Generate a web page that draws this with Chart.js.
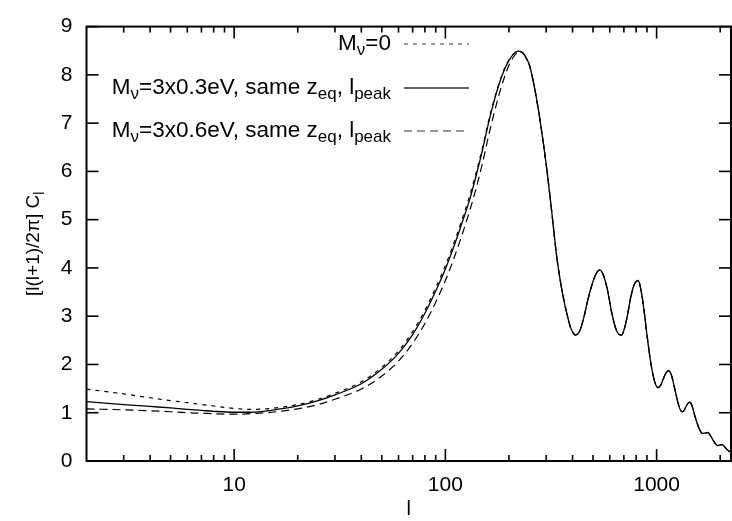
<!DOCTYPE html>
<html>
<head>
<meta charset="utf-8">
<script src="https://cdn.jsdelivr.net/npm/chart.js@4.4.1/dist/chart.umd.min.js"></script>
<style>
  html, body { margin: 0; padding: 0; background: #fff; }
  #wrap { width: 732px; height: 521px; }
</style>
</head>
<body>
<div id="wrap"><canvas id="clChart"></canvas></div>
<script>
// multipoles where the three models still differ
const lowEll = [2, 3, 4, 5, 6, 7, 8, 10, 12, 15, 20, 25, 30, 40, 50, 60, 70, 80, 90, 100,
  110, 120, 130, 140, 150, 160, 170, 180, 190, 200, 210, 220, 230];
const lowMassless = [1.49, 1.39, 1.31, 1.25, 1.21, 1.17, 1.14, 1.09, 1.07, 1.09, 1.17, 1.28, 1.40, 1.64, 1.94, 2.28, 2.68, 3.12, 3.59, 4.05,
  4.53, 5.01, 5.48, 5.98, 6.50, 7.04, 7.48, 7.84, 8.12, 8.31, 8.43, 8.49, 8.47];
const low03 = [1.23, 1.17, 1.13, 1.10, 1.07, 1.05, 1.03, 1.01, 1.01, 1.05, 1.14, 1.25, 1.37, 1.60, 1.90, 2.23, 2.62, 3.06, 3.52, 3.98,
  4.46, 4.94, 5.40, 5.92, 6.45, 7.00, 7.45, 7.82, 8.10, 8.30, 8.43, 8.49, 8.47];
const low06 = [1.08, 1.06, 1.04, 1.02, 1.00, 0.99, 0.98, 0.97, 0.98, 1.01, 1.08, 1.17, 1.28, 1.49, 1.76, 2.07, 2.44, 2.85, 3.29, 3.74,
  4.21, 4.69, 5.17, 5.66, 6.18, 6.73, 7.20, 7.61, 7.94, 8.20, 8.37, 8.46, 8.47];

// acoustic peaks: the three curves coincide here
const tailEll = [240, 250, 262, 280, 303, 320, 336, 351, 365, 377, 392, 413, 435, 455, 475, 500, 520, 538, 560, 585,
  610, 640, 665, 682, 705, 730, 755, 785, 818, 840, 870, 900, 930, 960, 990, 1014, 1045, 1080, 1110, 1141,
  1175, 1215, 1260, 1295, 1320, 1350, 1390, 1435, 1470, 1520, 1580, 1645, 1700, 1749, 1800, 1870, 1940, 1990, 2048, 2110,
  2180, 2250];
const tailCl = [8.37, 8.20, 7.82, 7.09, 6.00, 5.10, 4.26, 3.70, 3.30, 3.03, 2.76, 2.61, 2.72, 3.02, 3.38, 3.72, 3.90, 3.96, 3.85, 3.55,
  3.12, 2.75, 2.62, 2.61, 2.75, 3.05, 3.40, 3.66, 3.74, 3.58, 3.15, 2.62, 2.15, 1.80, 1.58, 1.52, 1.57, 1.72, 1.83, 1.87,
  1.78, 1.52, 1.22, 1.06, 1.02, 1.05, 1.16, 1.22, 1.15, 0.92, 0.70, 0.57, 0.58, 0.59, 0.52, 0.40, 0.32, 0.33, 0.34, 0.28,
  0.22, 0.18];

const yTicks = [0, 1, 2, 3, 4, 5, 6, 7, 8, 9];
const xLabels = [10, 100, 1000];

// rich text runs: [text, isSubscript]
const legendRows = [
  [["M", 0], ["ν", 1], ["=0", 0]],
  [["M", 0], ["ν", 1], ["=3x0.3eV, same z", 0], ["eq", 1], [", l", 0], ["peak", 1]],
  [["M", 0], ["ν", 1], ["=3x0.6eV, same z", 0], ["eq", 1], [", l", 0], ["peak", 1]],
];
const yTitle = [["[l(l+1)/2π] C", 0], ["l", 1]];

const FONT = '"Liberation Sans", Arial, sans-serif';
const styles = [
  { dash: [4, 5], width: 1.2 },
  { dash: [], width: 1.3 },
  { dash: [8, 5], width: 1.2 },
];

const toPoints = (low) =>
  lowEll.concat(tailEll).map((l, i) => ({ x: l, y: low.concat(tailCl)[i] }));

// draw text with subscripts
const drawRuns = (ctx, runs, x, y, size, align) => {
  const main = `${size}px ${FONT}`;
  const sub = `${Math.round(size * 0.75)}px ${FONT}`;
  let width = 0;
  runs.forEach(([t, s]) => {
    ctx.font = s ? sub : main;
    width += ctx.measureText(t).width;
  });
  let cx = align === "right" ? x - width : align === "center" ? x - width / 2 : x;
  runs.forEach(([t, s]) => {
    ctx.font = s ? sub : main;
    ctx.fillText(t, cx, s ? y + size * 0.3 : y);
    cx += ctx.measureText(t).width;
  });
};

const framePlugin = {
  id: "frame",
  afterDatasetsDraw(chart) {
    const { ctx, chartArea: a, scales: { x, y } } = chart;
    ctx.save();
    ctx.strokeStyle = "#000";
    ctx.lineWidth = 1.6;
    const seg = (x1, y1, x2, y2) => {
      ctx.beginPath();
      ctx.moveTo(x1, y1);
      ctx.lineTo(x2, y2);
      ctx.stroke();
    };
    yTicks.forEach((v) => {
      const py = y.getPixelForValue(v);
      seg(a.left, py, a.left + 12, py);
      seg(a.right, py, a.right - 12, py);
    });
    x.ticks.forEach((t) => {
      const v = t.value;
      const p = Math.pow(10, Math.floor(Math.log10(v) + 1e-9));
      const m = v / p;
      if (Math.abs(m - Math.round(m)) > 1e-6 || v <= x.min || v >= x.max) return;
      const len = Math.round(m) === 1 ? 12 : 6;
      const px = x.getPixelForValue(v);
      seg(px, a.bottom, px, a.bottom - len);
      seg(px, a.top, px, a.top + len);
    });
    ctx.lineWidth = 2;
    ctx.strokeRect(a.left, a.top, a.right - a.left, a.bottom - a.top);

    // legend
    ctx.fillStyle = "#000";
    ctx.textBaseline = "middle";
    const rowY = [44, 88, 131];
    legendRows.forEach((runs, i) => {
      drawRuns(ctx, runs, 391, rowY[i], 22.5, "right");
      const st = styles[i];
      ctx.setLineDash(st.dash);
      ctx.lineWidth = st.width;
      ctx.strokeStyle = "#333";
      seg(404, rowY[i], 469, rowY[i]);
    });
    ctx.setLineDash([]);

    // y axis title
    ctx.translate(34, (a.top + a.bottom) / 2);
    ctx.rotate(-Math.PI / 2);
    ctx.fillStyle = "#000";
    drawRuns(ctx, yTitle, 0, 0, 19, "center");
    ctx.restore();
  },
};

new Chart(document.getElementById("clChart"), {
  type: "line",
  data: {
    datasets: [lowMassless, low03, low06].map((low, i) => ({
      data: toPoints(low),
      borderColor: "#000",
      borderWidth: styles[i].width,
      borderDash: styles[i].dash,
      pointRadius: 0,
      fill: false,
      cubicInterpolationMode: "monotone",
    })),
  },
  options: {
    responsive: true,
    maintainAspectRatio: false,
    animation: false,
    layout: { padding: { left: 0, right: 1, top: 15.5, bottom: 0 } },
    plugins: { legend: { display: false }, tooltip: { enabled: false } },
    scales: {
      x: {
        type: "logarithmic",
        min: 2,
        max: 2250,
        grid: { display: false, drawTicks: false },
        border: { display: false },
        ticks: {
          autoSkip: false,
          maxRotation: 0,
          padding: 12,
          color: "#000",
          font: { family: FONT, size: 21 },
          callback: (v) => (xLabels.includes(v) ? String(v) : ""),
        },
        title: {
          display: true,
          text: "l",
          color: "#000",
          font: { family: FONT, size: 20 },
          padding: { top: 2, bottom: 0 },
        },
        afterFit: (s) => {
          s.height = 60;
          s.paddingLeft = 0;
          s.paddingRight = 0;
        },
      },
      y: {
        min: 0,
        max: 9,
        grid: { display: false, drawTicks: false },
        border: { display: false },
        ticks: {
          stepSize: 1,
          padding: 14,
          color: "#000",
          font: { family: FONT, size: 21 },
        },
        afterFit: (s) => { s.width = 86.5; },
      },
    },
  },
  plugins: [framePlugin],
});
</script>
</body>
</html>
